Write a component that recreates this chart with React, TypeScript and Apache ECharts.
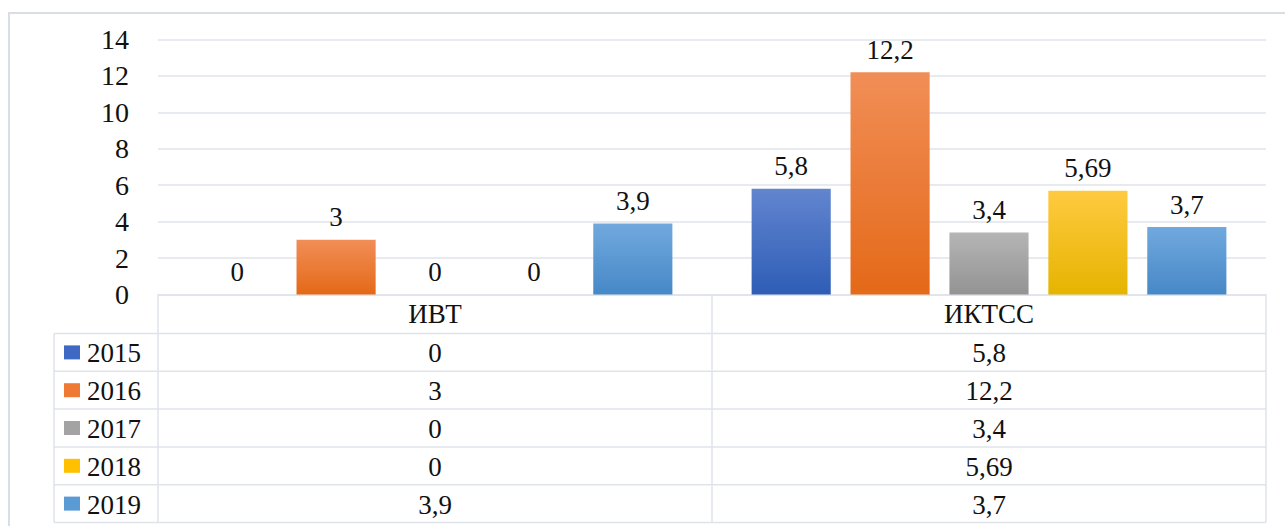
import React, { useEffect, useRef } from "react";
import * as echarts from "echarts";

// Categories (institutes) and yearly values
const categories = ["ИВТ", "ИКТСС"];
const years = ["2015", "2016", "2017", "2018", "2019"];
const values2015 = [0, 5.8];
const values2016 = [3, 12.2];
const values2017 = [0, 3.4];
const values2018 = [0, 5.69];
const values2019 = [3.9, 3.7];
const seriesValues = [values2015, values2016, values2017, values2018, values2019];

// Value axis
const Y_MIN = 0;
const Y_MAX = 14;
const Y_STEP = 2;

// Office-like palette: [top of gradient, bottom of gradient, legend key]
const palette = [
  ["#6285cf", "#2e5db6", "#3f6ac3"],
  ["#f18e57", "#e46918", "#ef7a36"],
  ["#b5b5b5", "#939393", "#a3a3a3"],
  ["#ffca40", "#e5b400", "#ffc000"],
  ["#71a9de", "#4688c7", "#5a9bd5"],
];

const W = 1285;
const H = 526;
const GRID_LEFT = 158;
const GRID_RIGHT_X = 1266;
const GRID_TOP = 39.5;
const AXIS_Y = 294.5;
const HEADER_H = 39;
const ROW_H = 37.8;
const LEGEND_COL_X = 54;
const LINE_COLOR = "#dfe3ea";
const FAMILY = "Times New Roman, Liberation Serif, DejaVu Serif, serif";
const TEXT_COLOR = "#111";

const fmt = (v: number) => String(v).replace(".", ",");

function buildTable(): any[] {
  const els: any[] = [];
  const bandW = (GRID_RIGHT_X - GRID_LEFT) / categories.length;
  const tableBottom = AXIS_Y + HEADER_H + ROW_H * years.length;
  const line = (x1: number, y1: number, x2: number, y2: number) => ({
    type: "line",
    silent: true,
    shape: { x1, y1, x2, y2 },
    style: { stroke: LINE_COLOR, lineWidth: 1.5 },
  });
  const text = (t: string, x: number, y: number, align: string) => ({
    type: "text",
    silent: true,
    x,
    y,
    style: {
      text: t,
      fontFamily: FAMILY,
      fontSize: 27,
      fill: TEXT_COLOR,
      align,
      verticalAlign: "middle",
      textAlign: align,
      textVerticalAlign: "middle",
    },
  });

  // vertical rules
  els.push(line(GRID_LEFT, AXIS_Y, GRID_LEFT, tableBottom));
  for (let c = 1; c <= categories.length; c++) {
    const x = GRID_LEFT + bandW * c;
    els.push(line(x, AXIS_Y, x, tableBottom));
  }
  els.push(line(LEGEND_COL_X, AXIS_Y + HEADER_H, LEGEND_COL_X, tableBottom));

  // horizontal rules
  for (let r = 0; r <= years.length; r++) {
    const y = AXIS_Y + HEADER_H + ROW_H * r;
    els.push(line(LEGEND_COL_X, y, GRID_RIGHT_X, y));
  }

  // header
  categories.forEach((cat, c) => {
    els.push(text(cat, GRID_LEFT + bandW * (c + 0.5), AXIS_Y + HEADER_H / 2, "center"));
  });

  // rows
  years.forEach((yr, r) => {
    const cy = AXIS_Y + HEADER_H + ROW_H * (r + 0.5);
    els.push({
      type: "rect",
      silent: true,
      shape: { x: 64, y: cy - 7, width: 16, height: 14 },
      style: { fill: palette[r][2] },
    });
    els.push(text(yr, 87, cy + 1, "left"));
    categories.forEach((_, c) => {
      els.push(text(fmt(seriesValues[r][c]), GRID_LEFT + bandW * (c + 0.5), cy + 1, "center"));
    });
  });

  // outer chart frame
  els.push({
    type: "rect",
    silent: true,
    shape: { x: 9, y: 13, width: W + 20, height: H + 20 },
    style: { fill: "none", stroke: "#d9dee6", lineWidth: 2 },
  });
  return els;
}

export default function App() {
  const ref = useRef<HTMLDivElement>(null);

  useEffect(() => {
    document.body.style.margin = "0";
    if (!ref.current) return;
    const chart = echarts.init(ref.current, null, { renderer: "svg" });
    chart.setOption({
      animation: false,
      backgroundColor: "#ffffff",
      textStyle: { fontFamily: FAMILY },
      grid: {
        left: GRID_LEFT,
        right: W - GRID_RIGHT_X,
        top: GRID_TOP,
        bottom: H - AXIS_Y,
        containLabel: false,
      },
      xAxis: {
        type: "category",
        data: categories,
        axisLine: { show: true, lineStyle: { color: LINE_COLOR, width: 1.5 } },
        axisTick: { show: false },
        axisLabel: { show: false },
      },
      yAxis: {
        type: "value",
        min: Y_MIN,
        max: Y_MAX,
        interval: Y_STEP,
        axisLine: { show: false },
        axisTick: { show: false },
        axisLabel: {
          margin: 29,
          fontFamily: FAMILY,
          fontSize: 28,
          color: TEXT_COLOR,
        },
        splitLine: { lineStyle: { color: LINE_COLOR, width: 1.5 } },
      },
      series: years.map((yr, i) => ({
        name: yr,
        type: "bar",
        data: seriesValues[i],
        barGap: "25%",
        barCategoryGap: "14.3%",
        itemStyle: {
          color: new echarts.graphic.LinearGradient(0, 0, 0, 1, [
            { offset: 0, color: palette[i][0] },
            { offset: 1, color: palette[i][1] },
          ]),
        },
        label: {
          show: true,
          position: "top",
          distance: 9,
          fontFamily: FAMILY,
          fontSize: 27,
          color: TEXT_COLOR,
          formatter: (p: any) => fmt(p.value),
        },
      })),
      graphic: { elements: buildTable() },
    });
    return () => chart.dispose();
  }, []);

  return <div ref={ref} style={{ width: W, height: H }} />;
}
